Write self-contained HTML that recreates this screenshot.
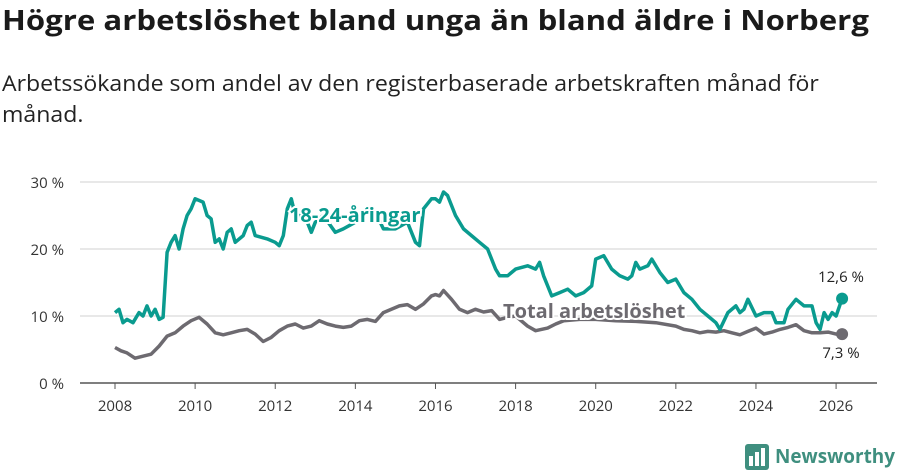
<!DOCTYPE html>
<html><head><meta charset="utf-8"><style>
body{margin:0;width:900px;height:474px;background:#fff;font-family:"Open Sans","Liberation Sans","DejaVu Sans",sans-serif;color:#1a1a1a;overflow:hidden;position:relative}
h1{position:absolute;left:2px;top:1px;margin:0;font-size:28px;line-height:38px;font-weight:bold;white-space:nowrap;transform:scaleX(1.113);transform-origin:left top}
p{position:absolute;left:2px;top:68px;margin:0;font-size:22px;line-height:31px;white-space:nowrap;color:#222;transform:scaleX(1.05);transform-origin:left top}
svg{position:absolute;left:0;top:0;font-family:"Open Sans","Liberation Sans",sans-serif}
</style></head><body>
<h1>Högre arbetslöshet bland unga än bland äldre i Norberg</h1>
<p>Arbetssökande som andel av den registerbaserade arbetskraften månad för<br>månad.</p>
<svg id="c" width="900" height="474"></svg>
<script>
const yTicks=[0,10,20,30];
const xTicks=[2008,2010,2012,2014,2016,2018,2020,2022,2024,2026];
const youthT=[2008.0,2008.1,2008.2,2008.3,2008.45,2008.6,2008.7,2008.8,2008.9,2009.0,2009.1,2009.2,2009.3,2009.4,2009.5,2009.6,2009.7,2009.8,2009.9,2010.0,2010.2,2010.3,2010.4,2010.5,2010.6,2010.7,2010.8,2010.9,2011.0,2011.2,2011.3,2011.4,2011.5,2011.8,2012.0,2012.1,2012.2,2012.3,2012.4,2012.5,2012.6,2012.8,2012.9,2013.0,2013.2,2013.5,2013.7,2014.0,2014.3,2014.5,2014.7,2015.0,2015.3,2015.5,2015.6,2015.7,2015.9,2016.0,2016.1,2016.2,2016.3,2016.5,2016.7,2016.9,2017.1,2017.3,2017.5,2017.6,2017.8,2018.0,2018.3,2018.5,2018.6,2018.7,2018.9,2019.1,2019.3,2019.5,2019.7,2019.9,2020.0,2020.2,2020.4,2020.6,2020.8,2020.9,2021.0,2021.1,2021.3,2021.4,2021.6,2021.8,2022.0,2022.2,2022.4,2022.6,2022.8,2023.0,2023.1,2023.3,2023.5,2023.6,2023.7,2023.8,2024.0,2024.2,2024.4,2024.5,2024.7,2024.8,2025.0,2025.2,2025.4,2025.5,2025.6,2025.7,2025.8,2025.9,2026.0,2026.15];
const youthV=[10.5,11,9,9.5,9,10.5,10,11.5,10,11,9.5,9.8,19.5,21,22,20,23,25,26,27.5,27,25,24.5,21,21.5,20,22.5,23,21,22,23.5,24,22,21.5,21,20.5,22,26,27.5,25,25,24,22.5,24,25,22.5,23,24,26,25.5,23,23,24,21,20.5,26,27.5,27.5,27,28.5,28,25,23,22,21,20,17,16,16,17,17.5,17,18,16,13,13.5,14,13,13.5,14.5,18.5,19,17,16,15.5,16,18,17,17.5,18.5,16.5,15,15.5,13.5,12.5,11,10,9,8,10.5,11.5,10.5,11,12.5,10,10.5,10.5,9,9,11,12.5,11.5,11.5,9,8,10.5,9.5,10.5,10,12.6];
const totT=[2008.0,2008.15,2008.3,2008.5,2008.7,2008.9,2009.1,2009.3,2009.5,2009.7,2009.9,2010.1,2010.3,2010.5,2010.7,2010.9,2011.1,2011.3,2011.5,2011.7,2011.9,2012.1,2012.3,2012.5,2012.7,2012.9,2013.1,2013.3,2013.5,2013.7,2013.9,2014.1,2014.3,2014.5,2014.7,2014.9,2015.1,2015.3,2015.5,2015.7,2015.9,2016.0,2016.1,2016.2,2016.4,2016.6,2016.8,2017.0,2017.2,2017.4,2017.6,2017.8,2018.0,2018.3,2018.5,2018.8,2019.0,2019.2,2019.6,2020.0,2020.5,2021.0,2021.5,2022.0,2022.2,2022.4,2022.6,2022.8,2023.0,2023.2,2023.4,2023.6,2023.8,2024.0,2024.2,2024.4,2024.6,2024.8,2025.0,2025.2,2025.4,2025.6,2025.8,2026.0,2026.15];
const totV=[5.3,4.8,4.5,3.7,4,4.3,5.5,7,7.5,8.5,9.3,9.8,8.8,7.5,7.2,7.5,7.8,8.0,7.3,6.2,6.8,7.8,8.5,8.8,8.2,8.5,9.3,8.8,8.5,8.3,8.5,9.3,9.5,9.2,10.5,11.0,11.5,11.7,11.0,11.8,13.0,13.2,13.0,13.8,12.5,11.0,10.5,11.0,10.6,10.8,9.5,9.8,10,8.5,7.8,8.2,8.8,9.3,9.5,9.5,9.3,9.2,9.0,8.5,8.0,7.8,7.5,7.7,7.6,7.8,7.5,7.2,7.7,8.2,7.3,7.6,8.0,8.3,8.7,7.8,7.5,7.5,7.6,7.3,7.3];
const NS="http://www.w3.org/2000/svg",svg=document.getElementById('c');
const X=t=>115+(t-2008)*40.06, Y=v=>383-v*6.7;
function el(n,a,p){const e=document.createElementNS(NS,n);for(const k in a)e.setAttribute(k,a[k]);(p||svg).appendChild(e);return e;}
yTicks.forEach(v=>{
 const g=el('line',{x1:80,x2:877,y1:Y(v),y2:Y(v),stroke:v?'#e0e0e0':'#555','stroke-width':1.5});
 
 
 const t=el('text',{x:64,y:Y(v)+6,'text-anchor':'end','font-size':15,fill:'#333'});t.textContent=v+' %';
 
 
});
xTicks.forEach(v=>{
 const l=el('line',{x1:X(v),x2:X(v),y1:383,y2:389,stroke:'#555','stroke-width':1});
 
 
 const t=el('text',{x:X(v),y:411,'text-anchor':'middle','font-size':15,fill:'#333'});t.textContent=v;
 
 
});
function line(T,V,col,name){
 const d=T.map((t,i)=>(i?'L':'M')+X(t).toFixed(1)+','+Y(V[i]).toFixed(1)).join('');
 const p=el('path',{d,fill:'none',stroke:col,'stroke-width':3.5,'stroke-linejoin':'round'});
 
 
 const n=T.length-1;
 const c=el('circle',{cx:X(T[n]),cy:Y(V[n]),r:6,fill:col});
 
 
}
line(totT,totV,'#6d6a70','total-line');
line(youthT,youthV,'#0a9b8f','youth-line');
function lab(x,y,s,col,w,sz,anchor,name){
 const a={x,y,fill:col,'font-weight':w,'font-size':sz,'text-anchor':anchor||'start',stroke:'#fff','stroke-width':w=='bold'?4:0,'paint-order':'stroke'};
 const t=el('text',a);t.textContent=s;
 
 
}
lab(289,222,'18-24-åringar','#0a9b8f','bold',20,'start','youth-series-label');
lab(503,318,'Total arbetslöshet','#6d6a70','bold',20,'start','total-series-label');
lab(841,282,'12,6 %','#222','normal',15,'middle','youth-end-value');
lab(841,358,'7,3 %','#222','normal',15,'middle','total-end-value');
const g=el('g',{});
el('rect',{x:745,y:444,width:24,height:26,rx:3,fill:'#3f8f7f'},g);
[[749,456,4,10],[755,452,4,14],[761,448,4,18]].forEach(r=>el('rect',{x:r[0],y:r[1],width:r[2],height:r[3],fill:'#fff'},g));
const lt=el('text',{x:775,y:463,'font-size':20,'font-weight':'bold',fill:'#3f8f7f',textLength:120,lengthAdjust:'spacingAndGlyphs'},g);lt.textContent='Newsworthy';
</script>
</body></html>
